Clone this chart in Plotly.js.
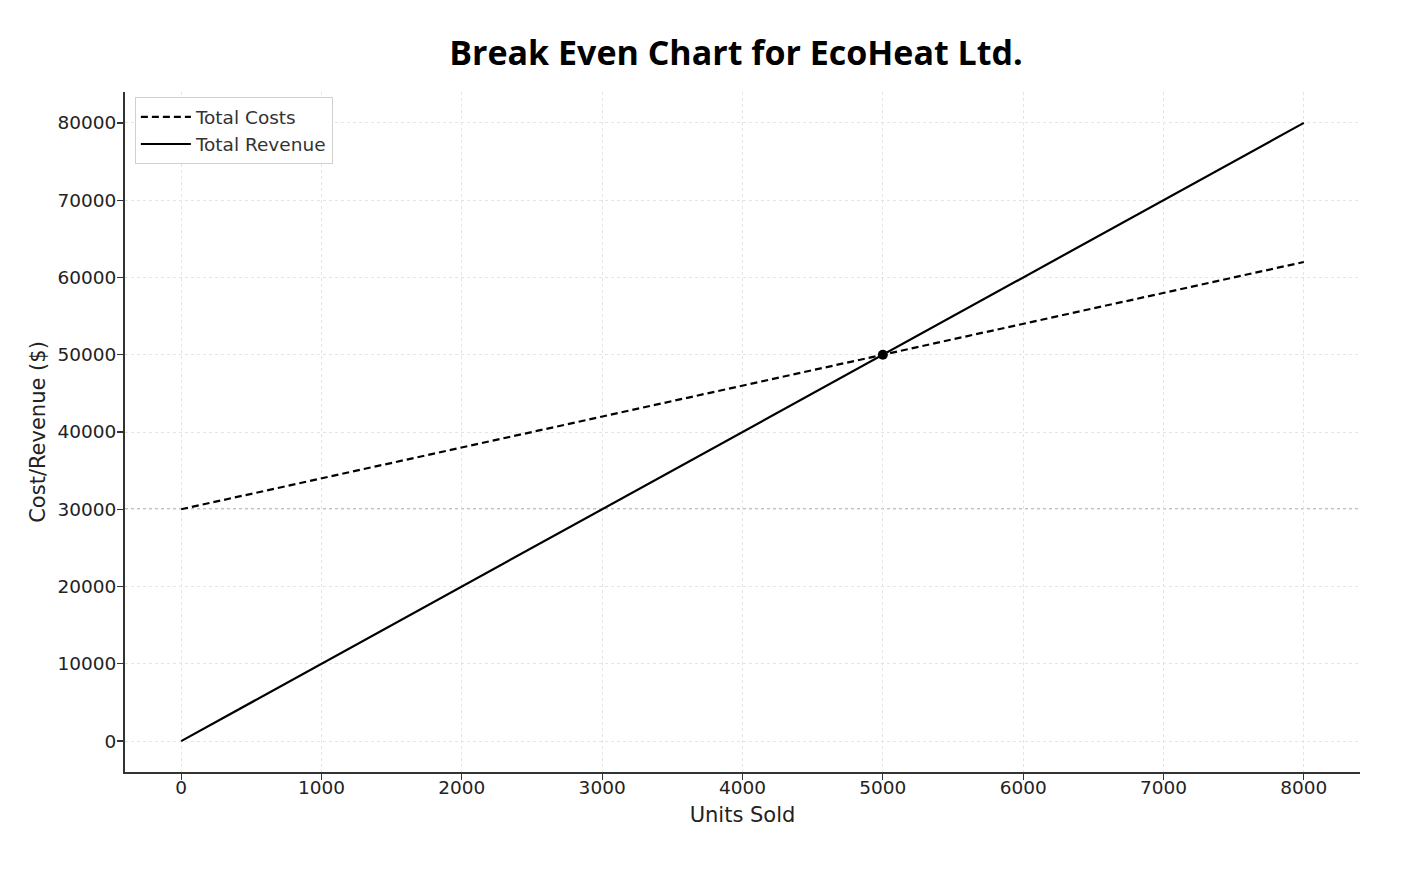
<!DOCTYPE html>
<html>
<head>
<meta charset="utf-8">
<script src="https://cdn.plot.ly/plotly-3.0.1.min.js"></script>
<style>html,body{margin:0;padding:0;background:#fff;}#chart{width:1408px;height:876px;}</style>
</head>
<body>
<div id="chart"></div>
<script>
const units = [0, 1000, 2000, 3000, 4000, 5000, 6000, 7000, 8000];
const totalCosts = [30000, 34000, 38000, 42000, 46000, 50000, 54000, 58000, 62000];
const totalRevenue = [0, 10000, 20000, 30000, 40000, 50000, 60000, 70000, 80000];
const breakEvenUnits = [5000];
const breakEvenValue = [50000];
const fixedCosts = 30000;
const xTicks = [0, 1000, 2000, 3000, 4000, 5000, 6000, 7000, 8000];
const yTicks = [0, 10000, 20000, 30000, 40000, 50000, 60000, 70000, 80000];

const tickFont = {family: 'DejaVu Sans, sans-serif', size: 18.5, color: '#222'};

const traces = [
  {x: units, y: totalCosts, type: 'scatter', mode: 'lines', name: 'Total Costs',
   line: {color: '#000', width: 2.2, dash: '7px,4px'}},
  {x: units, y: totalRevenue, type: 'scatter', mode: 'lines', name: 'Total Revenue',
   line: {color: '#000', width: 2.2}},
  {x: breakEvenUnits, y: breakEvenValue, type: 'scatter', mode: 'markers', showlegend: false,
   marker: {color: '#000', size: 10}}
];

const layout = {
  width: 1408, height: 876,
  paper_bgcolor: '#fff', plot_bgcolor: '#fff',
  margin: {l: 125, r: 48, t: 92, b: 104},
  title: {text: 'Break Even Chart for EcoHeat Ltd.', font: {family: 'Open Sans, sans-serif', size: 34, color: '#000', weight: 'bold'},
          xref: 'container', x: 0.5227, xanchor: 'center', yref: 'container', y: 1 - 53/876, yanchor: 'middle'},
  xaxis: {range: [-400, 8400], tickvals: xTicks, ticktext: xTicks.map(String), tickfont: tickFont,
          showline: true, linecolor: '#333', linewidth: 2, mirror: false,
          ticks: 'outside', ticklen: 6, tickwidth: 1.2, tickcolor: '#333', ticklabelstandoff: -8,
          showgrid: true, gridcolor: '#e4e4e4', griddash: 'dot', gridwidth: 1, zeroline: false,
          title: {text: 'Units Sold', font: {family: 'DejaVu Sans, sans-serif', size: 21, color: '#222'}, standoff: 10}},
  yaxis: {range: [-4000, 84000], tickvals: yTicks, ticktext: yTicks.map(String), tickfont: tickFont,
          showline: true, linecolor: '#333', linewidth: 2, mirror: false,
          ticks: 'outside', ticklen: 6, tickwidth: 1.2, tickcolor: '#333', ticklabelstandoff: -3,
          showgrid: true, gridcolor: '#e4e4e4', griddash: 'dot', gridwidth: 1, zeroline: false,
          title: {text: 'Cost/Revenue ($)', font: {family: 'DejaVu Sans, sans-serif', size: 21, color: '#222'}, standoff: 6}},
  legend: {x: 0.008, y: 0.992, xanchor: 'left', yanchor: 'top', bgcolor: 'rgba(255,255,255,0.9)',
           bordercolor: '#d0d0d0', borderwidth: 1, itemwidth: 50,
           font: {family: 'DejaVu Sans, sans-serif', size: 18.5, color: '#333'}, tracegroupgap: 0},
  shapes: [
    {type: 'line', xref: 'paper', x0: 0, x1: 1, yref: 'y', y0: fixedCosts, y1: fixedCosts,
     line: {color: '#888', width: 1.3, dash: 'dot'}, layer: 'below'}
  ],
  showlegend: true
};

Plotly.newPlot('chart', traces, layout, {displayModeBar: false, staticPlot: true});
</script>
</body>
</html>
